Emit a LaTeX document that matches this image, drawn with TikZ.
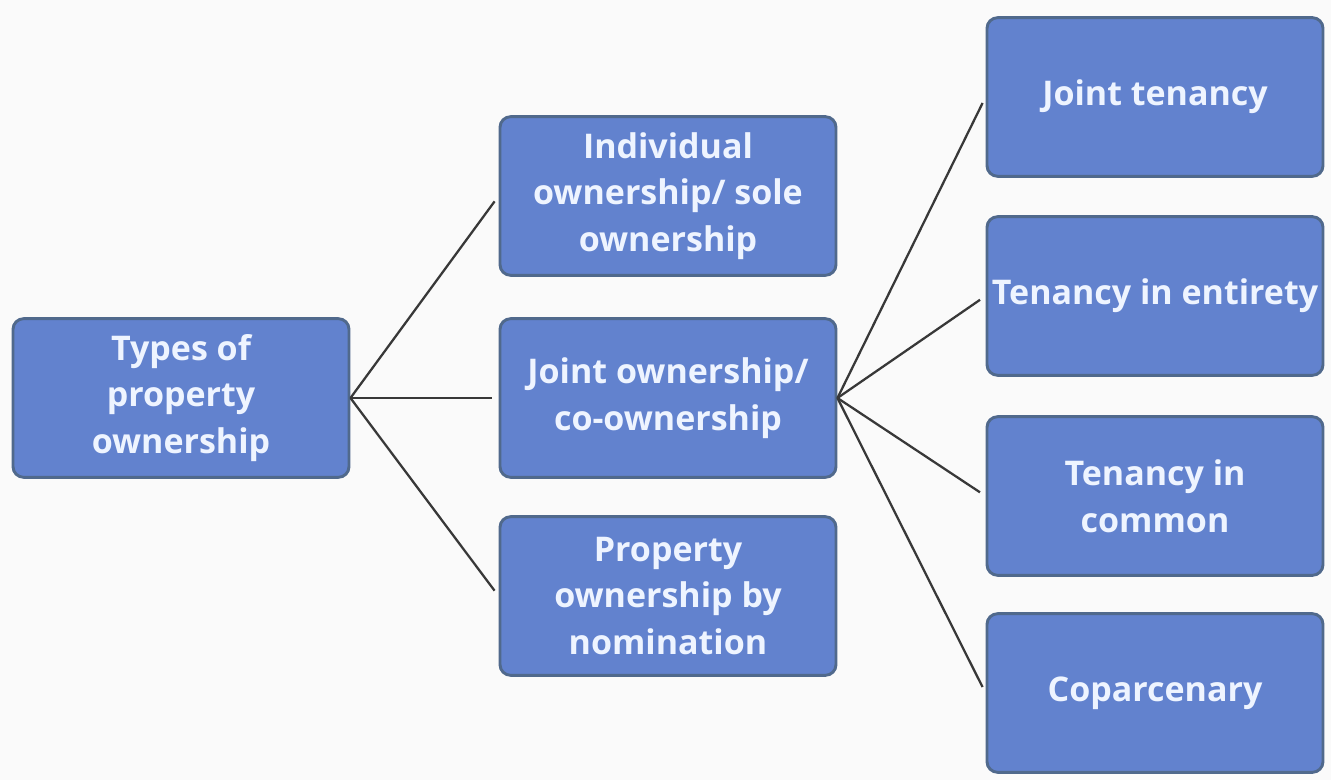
\documentclass[tikz,border=0pt]{standalone}
\usepackage{fontspec}
\setmainfont{Open Sans}
\definecolor{boxfill}{HTML}{6282CE}
\definecolor{boxedge}{HTML}{50698C}
\definecolor{boxtext}{HTML}{EEF4FF}
\definecolor{linecol}{HTML}{383838}
\definecolor{bgcol}{HTML}{FAFAFA}
\begin{document}
\begin{tikzpicture}[x=0.75pt,y=-0.75pt,
  box/.style={draw=boxedge, line width=2.2pt, fill=boxfill, rounded corners=8pt,
    minimum width=252pt, minimum height=119pt, align=center, text=boxtext,
    font=\fontsize{25.5}{35}\selectfont\bfseries, inner sep=1pt},
  conn/.style={draw=linecol, line width=1.7pt, shorten >=5pt}]
\fill[bgcol] (0,0) rectangle (1331,780);
\useasboundingbox (0,0) rectangle (1331,780);
\node[box] (root) at (181,398) {Types of\\property\\ownership};
\node[box] (indiv) at (668,196) {Individual\\ownership/ sole\\ownership};
\node[box] (joint) at (668,398) {Joint ownership/\\co-ownership};
\node[box] (nomin) at (668,596) {Property\\ownership by\\nomination};
\node[box] (jten) at (1155,97) {Joint tenancy};
\node[box] (tent) at (1155,296) {Tenancy in entirety};
\node[box] (tcom) at (1155,496) {Tenancy in\\common};
\node[box] (copa) at (1155,693) {Coparcenary};
\draw[conn] (root.east) -- (indiv.west);
\draw[conn] (root.east) -- (joint.west);
\draw[conn] (root.east) -- (nomin.west);
\draw[conn] (joint.east) -- (jten.west);
\draw[conn] (joint.east) -- (tent.west);
\draw[conn] (joint.east) -- (tcom.west);
\draw[conn] (joint.east) -- (copa.west);
\end{tikzpicture}
\end{document}
